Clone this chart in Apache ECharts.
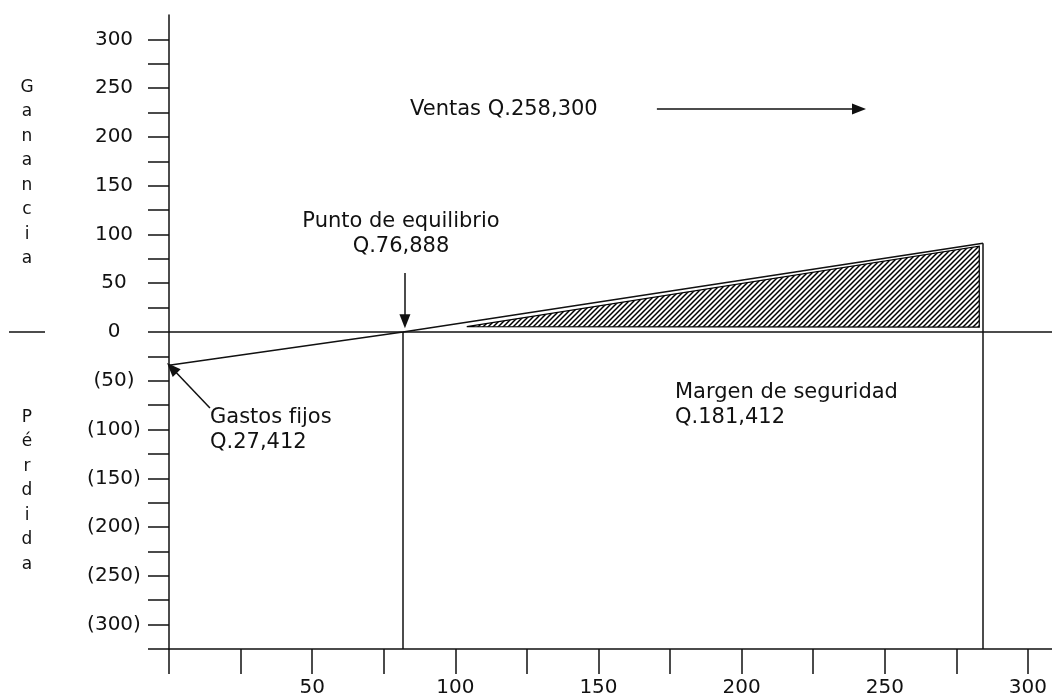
<!DOCTYPE html>
<html lang="es">
<head>
    <meta charset="UTF-8">
    <title>Punto de equilibrio</title>
    <script type="text/javascript" src="https://cdn.jsdelivr.net/npm/echarts@6/dist/echarts.min.js"></script>
    <style>
        html, body { margin: 0; padding: 0; background: #fff; }
        #chart { width: 1052px; height: 698px; }
    </style>
</head>
<body>
<div id="chart"></div>

<script type="text/javascript">
    // datos
    var lineaX = [0, 81.7, 284.3];
    var lineaY = [-34, 0, 91];
    var equilibrioX = 81.7;
    var ventasX = 284.3;
    var ventasTope = 91;
    // zona rayada (margen de seguridad)
    var rayadoX = [104, 283, 283];
    var rayadoY = [5.5, 5, 88];
    // flechas: [x1, y1, x2, y2]
    var flechaVentas = [170.4, 228.5, 241, 228.5];
    var flechaEquilibrio = [82.4, 60.5, 82.4, 11];
    var flechaGastos = [14.3, -78, 1.0, -37];
    // marcas de los ejes
    var yTicks = [-325, -300, -275, -250, -225, -200, -175, -150, -125, -100, -75, -50, -25,
                  0, 25, 50, 75, 100, 125, 150, 175, 200, 225, 250, 275, 300];
    var yLabels = [-300, -250, -200, -150, -100, -50, 0, 50, 100, 150, 200, 250, 300];
    var xTicks = [0, 25, 50, 75, 100, 125, 150, 175, 200, 225, 250, 275, 300];
    var xLabels = [50, 100, 150, 200, 250, 300];

    var fuente = 'DejaVu Sans';
    var negro = '#111';

    // patron de rayas diagonales
    var patron = document.createElement('canvas');
    patron.width = 5;
    patron.height = 5;
    var ctx = patron.getContext('2d');
    ctx.fillStyle = '#fff';
    ctx.fillRect(0, 0, 5, 5);
    ctx.strokeStyle = '#000';
    ctx.lineWidth = 1.5;
    ctx.beginPath();
    ctx.moveTo(-1, 6); ctx.lineTo(6, -1);
    ctx.moveTo(-1, 1); ctx.lineTo(1, -1);
    ctx.moveTo(4, 6); ctx.lineTo(6, 4);
    ctx.stroke();

    var lineaData = lineaX.map(function (x, i) { return [x, lineaY[i]]; });

    function flecha(f) {
        return [
            { coord: [f[0], f[1]], symbol: 'none' },
            { coord: [f[2], f[3]], symbol: 'triangle', symbolSize: [11, 14] }
        ];
    }

    var myChart = echarts.init(document.getElementById('chart'));
    myChart.setOption({
        animation: false,
        backgroundColor: '#fff',
        grid: { left: 169, right: 0, top: 15, bottom: 49 },
        xAxis: {
            type: 'value',
            min: 0,
            max: 308.4,
            splitLine: { show: false },
            axisLine: { onZero: false, lineStyle: { color: negro, width: 1.5 } },
            axisTick: { show: true, length: 25, inside: false, customValues: xTicks,
                        lineStyle: { color: negro, width: 1.5 } },
            axisLabel: { customValues: xLabels, margin: 29, color: negro,
                         fontFamily: fuente, fontSize: 20 }
        },
        yAxis: {
            type: 'value',
            min: -325,
            max: 325,
            splitLine: { show: false },
            axisLine: { show: true, onZero: false, lineStyle: { color: negro, width: 1.5 } },
            axisTick: { show: true, length: 21, customValues: yTicks,
                        lineStyle: { color: negro, width: 1.5 } },
            axisLabel: {
                customValues: yLabels, margin: 55, align: 'center', color: negro,
                fontFamily: fuente, fontSize: 20,
                formatter: function (v) { return v < 0 ? '(' + (-v) + ')' : String(v); }
            }
        },
        series: [
            {
                type: 'custom',
                data: [[rayadoX[0], rayadoY[0]]],
                renderItem: function (params, api) {
                    var pts = rayadoX.map(function (x, i) { return api.coord([x, rayadoY[i]]); });
                    return {
                        type: 'polygon',
                        shape: { points: pts },
                        style: { fill: { image: patron, repeat: 'repeat' }, stroke: '#000', lineWidth: 1.2 }
                    };
                },
                silent: true
            },
            {
                type: 'line',
                data: lineaData,
                symbol: 'none',
                lineStyle: { color: negro, width: 1.5 },
                markLine: {
                    silent: true,
                    symbol: 'none',
                    label: { show: false },
                    lineStyle: { color: negro, width: 1.5, type: 'solid' },
                    data: [
                        { yAxis: 0 },
                        [{ coord: [equilibrioX, 0] }, { coord: [equilibrioX, -325] }],
                        [{ coord: [ventasX, ventasTope] }, { coord: [ventasX, -325] }]
                    ]
                }
            },
            {
                type: 'line',
                data: [],
                markLine: {
                    silent: true,
                    label: { show: false },
                    lineStyle: { color: negro, width: 1.5, type: 'solid' },
                    data: [flecha(flechaVentas), flecha(flechaEquilibrio), flecha(flechaGastos)]
                }
            }
        ],
        graphic: [
            { type: 'text', left: 410, top: 99,
              style: { text: 'Ventas Q.258,300', font: '21px ' + fuente, fill: negro } },
            { type: 'text', x: 401, y: 209,
              style: { text: 'Punto de equilibrio\nQ.76,888', font: '21px ' + fuente, fill: negro,
                       align: 'center', lineHeight: 25 } },
            { type: 'text', left: 210, top: 405,
              style: { text: 'Gastos fijos\nQ.27,412', font: '21px ' + fuente, fill: negro, lineHeight: 25 } },
            { type: 'text', left: 675, top: 380,
              style: { text: 'Margen de seguridad\nQ.181,412', font: '21px ' + fuente, fill: negro, lineHeight: 25 } },
            { type: 'text', x: 27, y: 75,
              style: { text: 'G\na\nn\na\nn\nc\ni\na', font: '17px ' + fuente, fill: negro,
                       align: 'center', lineHeight: 24.5 } },
            { type: 'text', x: 27, y: 405,
              style: { text: 'P\né\nr\nd\ni\nd\na', font: '17px ' + fuente, fill: negro,
                       align: 'center', lineHeight: 24.5 } },
            { type: 'line', shape: { x1: 9, y1: 332, x2: 45, y2: 332 },
              style: { stroke: negro, lineWidth: 1.5 } }
        ]
    });
</script>

</body>
</html>
